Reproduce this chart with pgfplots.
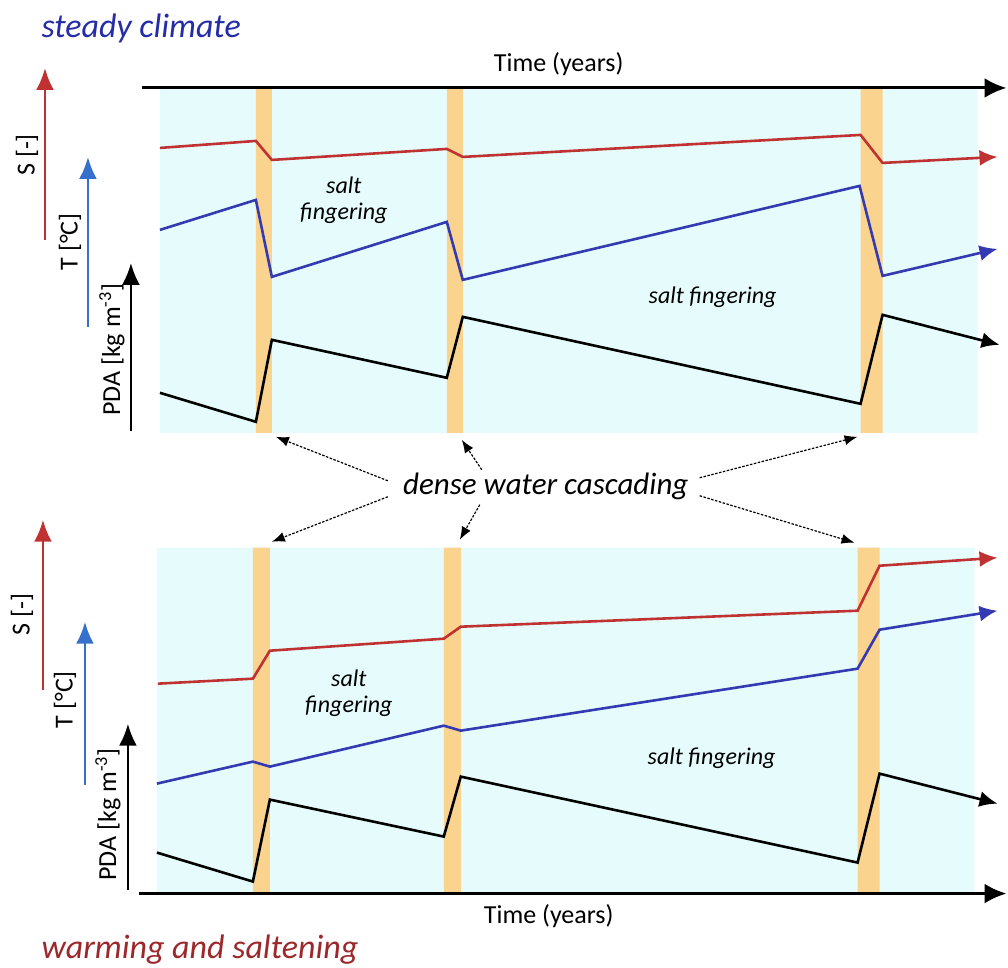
\documentclass[border=0pt]{standalone}
\usepackage{fontspec}
\setmainfont{Carlito}
\usepackage{pgfplots}
\pgfplotsset{compat=1.18}
\usetikzlibrary{arrows.meta}
\definecolor{bgc}{RGB}{230,252,252}
\definecolor{org}{RGB}{250,212,142}
\definecolor{sred}{RGB}{192,50,50}
\definecolor{tblue}{RGB}{52,58,178}
\definecolor{tblue2}{RGB}{52,112,204}
\definecolor{ttlblue}{RGB}{36,44,168}
\definecolor{ttlred}{RGB}{156,40,44}
\begin{document}
\begin{tikzpicture}
\begin{axis}[width=1008pt,height=968pt,scale only axis,
  xmin=0,xmax=1008,ymin=0,ymax=968,y dir=reverse,hide axis,clip=false]
\addplot[draw=none,forget plot] coordinates {(0,0) (1008,968)};
% backgrounds
\addplot[fill=bgc,draw=none] coordinates {(160,88) (978,88) (978,433) (160,433) (160,88)};
\addplot[fill=bgc,draw=none] coordinates {(157,548) (975,548) (975,893) (157,893) (157,548)};
% orange bars top
\addplot[fill=org,draw=none] coordinates {(256,88) (272,88) (272,433) (256,433) (256,88)};
\addplot[fill=org,draw=none] coordinates {(447,88) (463,88) (463,433) (447,433) (447,88)};
\addplot[fill=org,draw=none] coordinates {(861,88) (883,88) (883,433) (861,433) (861,88)};
% orange bars bottom
\addplot[fill=org,draw=none] coordinates {(253,548) (270,548) (270,893) (253,893) (253,548)};
\addplot[fill=org,draw=none] coordinates {(444,548) (461,548) (461,893) (444,893) (444,548)};
\addplot[fill=org,draw=none] coordinates {(858,548) (880,548) (880,893) (858,893) (858,548)};
% time axes
\addplot[black,line width=3pt,-{Latex[length=22pt,width=20pt]}] coordinates {(142,88) (1007,88)};
\addplot[black,line width=3pt,-{Latex[length=22pt,width=20pt]}] coordinates {(139,894) (1007,894)};
% top panel series
\addplot[sred,line width=2.6pt,line join=miter,-{Latex[length=18pt,width=16pt]}] coordinates {
(160,148) (256,141) (272,160) (447,149) (463,157) (861,135) (883,163) (998,157)};
\addplot[tblue,line width=2.6pt,line join=miter,-{Latex[length=18pt,width=16pt]}] coordinates {
(160,230) (256,200) (272,277) (447,222) (463,280) (860,186) (883,276) (998,249)};
\addplot[black,line width=2.6pt,line join=miter,-{Latex[length=18pt,width=16pt]}] coordinates {
(160,393) (256,422) (272,340) (447,378) (463,317) (861,404) (883,315) (1000,345)};
% bottom panel series
\addplot[sred,line width=2.6pt,line join=miter,-{Latex[length=18pt,width=16pt]}] coordinates {
(158,684) (253,679) (270,651) (444,639) (461,627) (858,611) (880,566) (998,558)};
\addplot[tblue,line width=2.6pt,line join=miter,-{Latex[length=18pt,width=16pt]}] coordinates {
(157,784) (253,762) (270,767) (444,726) (461,731) (858,669) (880,630) (998,611)};
\addplot[black,line width=2.6pt,line join=miter,-{Latex[length=18pt,width=16pt]}] coordinates {
(157,853) (253,882) (270,800) (444,837) (461,777) (858,863) (880,774) (998,804)};
% left variable arrows top
\addplot[sred,line width=2.8pt,-{Latex[length=22pt,width=18pt]}] coordinates {(45,240) (45,68)};
\addplot[tblue2,line width=2.8pt,-{Latex[length=22pt,width=18pt]}] coordinates {(88,327) (88,157)};
\addplot[black,line width=2.8pt,-{Latex[length=22pt,width=18pt]}] coordinates {(131,431) (131,263)};
% left variable arrows bottom
\addplot[sred,line width=2.8pt,-{Latex[length=22pt,width=18pt]}] coordinates {(43,690) (43,520)};
\addplot[tblue2,line width=2.8pt,-{Latex[length=22pt,width=18pt]}] coordinates {(85,785) (85,622)};
\addplot[black,line width=2.8pt,-{Latex[length=22pt,width=18pt]}] coordinates {(128,890) (128,724)};
% dashed arrows
\addplot[black,line width=1.2pt,dash pattern=on 2.5pt off 1.5pt,-{Latex[length=13pt,width=10pt]}] coordinates {(388,481) (276,437)};
\addplot[black,line width=1.2pt,dash pattern=on 2.5pt off 1.5pt,-{Latex[length=13pt,width=10pt]}] coordinates {(482,470) (462,440)};
\addplot[black,line width=1.2pt,dash pattern=on 2.5pt off 1.5pt,-{Latex[length=13pt,width=10pt]}] coordinates {(700,478) (858,437)};
\addplot[black,line width=1.2pt,dash pattern=on 2.5pt off 1.5pt,-{Latex[length=13pt,width=10pt]}] coordinates {(388,497) (272,542)};
\addplot[black,line width=1.2pt,dash pattern=on 2.5pt off 1.5pt,-{Latex[length=13pt,width=10pt]}] coordinates {(480,505) (460,540)};
\addplot[black,line width=1.2pt,dash pattern=on 2.5pt off 1.5pt,-{Latex[length=13pt,width=10pt]}] coordinates {(700,496) (855,543)};
% texts
\node[anchor=west,text=ttlblue,font=\fontsize{34}{40}\selectfont\itshape] at (axis cs:38,28) {steady climate};
\node[anchor=west,text=ttlred,font=\fontsize{34}{40}\selectfont\itshape] at (axis cs:38,950) {warming and saltening};
\node[font=\fontsize{26}{30}\selectfont] at (axis cs:559,64) {Time (years)};
\node[font=\fontsize{26}{30}\selectfont] at (axis cs:549,917) {Time (years)};
\node[font=\fontsize{31}{36}\selectfont\itshape] at (axis cs:546,487) {dense water cascading};
\node[font=\fontsize{24}{26}\selectfont\itshape,align=center] at (axis cs:344,200) {salt\\fingering};
\node[font=\fontsize{24}{26}\selectfont\itshape] at (axis cs:713,297) {salt fingering};
\node[font=\fontsize{24}{26}\selectfont\itshape,align=center] at (axis cs:349,694) {salt\\fingering};
\node[font=\fontsize{24}{26}\selectfont\itshape] at (axis cs:712,759) {salt fingering};
% axis labels
\node[rotate=90,font=\fontsize{26}{30}\selectfont] at (axis cs:27,155) {S [-]};
\node[rotate=90,font=\fontsize{26}{30}\selectfont] at (axis cs:70,242) {T [°C]};
\node[rotate=90,font=\fontsize{26}{30}\selectfont] at (axis cs:112,350) {PDA [kg m\textsuperscript{-3}]};
\node[rotate=90,font=\fontsize{26}{30}\selectfont] at (axis cs:22,615) {S [-]};
\node[rotate=90,font=\fontsize{26}{30}\selectfont] at (axis cs:65,700) {T [°C]};
\node[rotate=90,font=\fontsize{26}{30}\selectfont] at (axis cs:108,815) {PDA [kg m\textsuperscript{-3}]};
\end{axis}
\end{tikzpicture}
\end{document}
